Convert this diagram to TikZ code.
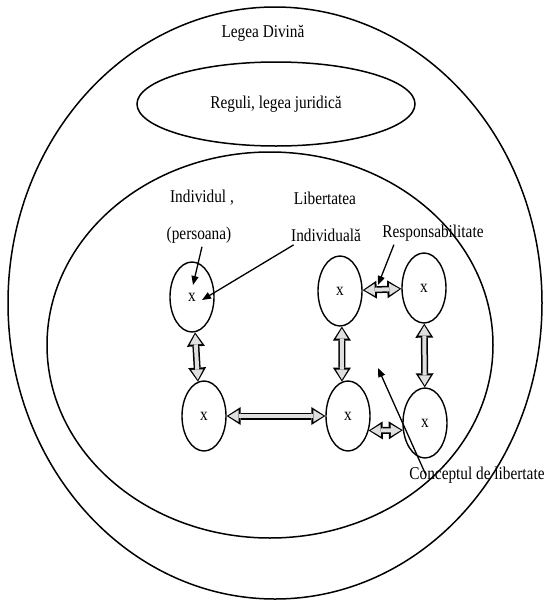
\documentclass[tikz,border=0pt]{standalone}
\usepackage{fontspec}
\setmainfont{Liberation Serif}[FakeStretch=0.85]
\usetikzlibrary{arrows.meta, positioning, shapes.geometric}

\begin{document}
\begin{tikzpicture}[x=1pt, y=-1pt, font=\fontsize{18}{21}\selectfont]
    \tikzstyle{sphere}=[ellipse, draw=black, line width=1.5pt, inner sep=0pt]
    \tikzstyle{person}=[ellipse, draw=black, line width=1.4pt, minimum width=44pt, minimum height=70pt, inner sep=0pt]
    \tikzstyle{pointer}=[line width=1.3pt, -{Triangle[length=9pt,width=7pt]}]
    \tikzstyle{link}=[draw=gray!25, line width=4pt,
        {Triangle[length=10pt,width=12pt,line width=0pt]}-{Triangle[length=10pt,width=12pt,line width=0pt]},
        shorten <=2pt, shorten >=2pt,
        preaction={draw=black, line width=7pt, shorten <=0pt, shorten >=0pt,
            {Triangle[length=14pt,width=18pt,line width=0pt]}-{Triangle[length=14pt,width=18pt,line width=0pt]}}]
    \useasboundingbox (0,0) rectangle (544,600);

    % Draw the three spheres
    \node[sphere, minimum width=534pt, minimum height=592pt] (divine) at (275,303) {};
    \node (divine-lbl) at (263,33) {Legea Divină};
    \node[sphere, minimum width=278pt, minimum height=84pt] (law) at (276,104) {Reguli, legea juridică};
    \node[sphere, minimum width=446pt, minimum height=386pt] (freedom) at (270,345) {};

    % Draw the persons
    \foreach \name / \x / \y in {A/192/297, B/204/416, C/348/416, D/340/291, E/424/288, F/425/423}
        \node[person] (P-\name) at (\x,\y) {x};

    % Labels
    \node (ind-1) at (202,198) {Individul ,};
    \node (ind-2) at (199,235) {(persoana)};
    \node (lib-1) at (325,198) {Libertatea};
    \node (lib-2) at (326,235) {Individuală};
    \node (resp) at (433,233) {Responsabilitate};
    \node (concept) at (477,475) {Conceptul de libertate};

    % Connect the persons
    \draw[link] (P-A.-85) -- (P-B.100);
    \draw[link] (P-B) -- (P-C);
    \draw[link] (P-D.-87) -- (P-C.100);
    \draw[link] (P-D) -- (P-E);
    \draw[link] (P-E) -- (P-F);
    \draw[link] (P-C.-35) -- (P-F.198);

    % Point the labels at the picture
    \coordinate (A-in1) at (193,285);
    \coordinate (A-in2) at (202,300);
    \coordinate (gap) at (378,285);
    \coordinate (middle) at (378,368);
    \draw[pointer] ([xshift=3pt]ind-2.south) -- (A-in1);
    \draw[pointer] ([xshift=6pt]lib-2.south west) -- (A-in2);
    \draw[pointer] ([xshift=15pt]resp.south west) -- (gap);
    \draw[pointer] ([xshift=20pt]concept.west) -- (middle);
\end{tikzpicture}
\end{document}
